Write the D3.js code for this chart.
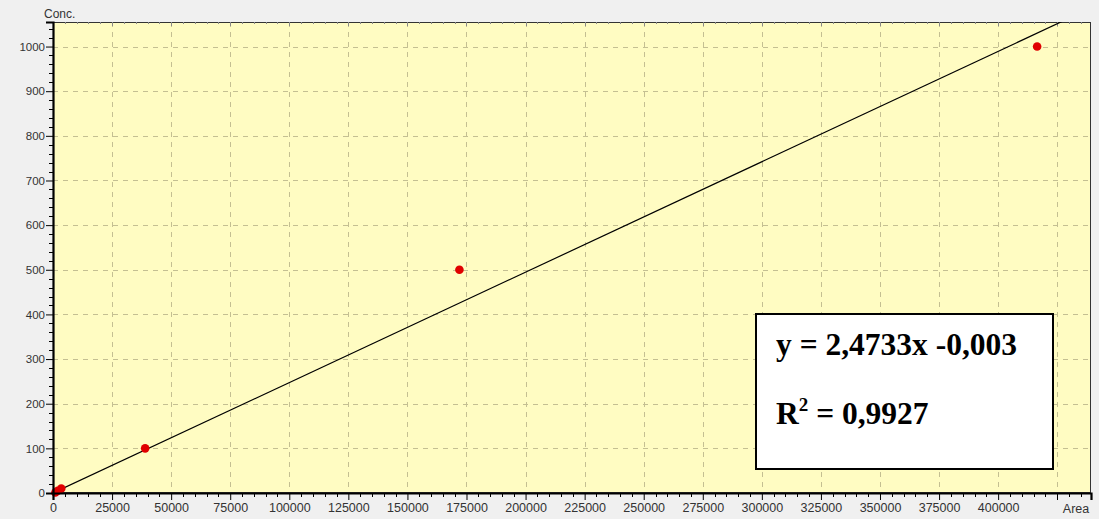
<!DOCTYPE html>
<html><head><meta charset="utf-8">
<script src="https://cdn.jsdelivr.net/npm/d3@7"></script>
<style>
html,body{margin:0;padding:0;background:#f0f0f0;}
svg{display:block;}
</style></head>
<body>
<svg id="c" width="1099" height="519"></svg>
<script>
// Data
const areaValues = [1000, 2000, 3500, 39000, 172000, 416500];
const concValues = [1, 5, 10, 100, 500, 1000];
const xTickValues = [0,25000,50000,75000,100000,125000,150000,175000,200000,225000,250000,275000,300000,325000,350000,375000,400000];
const yTickValues = [0,100,200,300,400,500,600,700,800,900,1000];
const fitSlope = 0.0024733;
const fitIntercept = -0.003;
const equationText = "y = 2,4733x -0,003";
const r2Value = "0,9927";
const xLabel = "Area", yLabel = "Conc.";

const svg = d3.select("#c");
const L = 53, R = 1091, T = 22, B = 493;
const x = d3.scaleLinear().domain([0, 439300]).range([L, R]);
const y = d3.scaleLinear().domain([0, 1055]).range([B, T]);
const sans = "Liberation Sans, Arial, sans-serif";

// plot background
svg.append("rect").attr("x", L).attr("y", T).attr("width", R-L).attr("height", B-T)
  .attr("fill", "#fffcc2");

// grid
const gridColor = "#c4bf92";
svg.append("g").selectAll("line").data(xTickValues.concat([425000]).filter(d=>d>0)).join("line")
  .attr("x1", d=>Math.round(x(d))+0.5).attr("x2", d=>Math.round(x(d))+0.5)
  .attr("y1", T).attr("y2", B)
  .attr("stroke", gridColor).attr("stroke-dasharray", "5,5");
svg.append("g").selectAll("line").data(yTickValues.filter(d=>d>0)).join("line")
  .attr("y1", d=>Math.round(y(d))+0.5).attr("y2", d=>Math.round(y(d))+0.5)
  .attr("x1", L).attr("x2", R)
  .attr("stroke", gridColor).attr("stroke-dasharray", "5,5");

// frame top/right
svg.append("rect").attr("x", L+0.5).attr("y", T+0.5).attr("width", R-L-1).attr("height", B-T-1)
  .attr("fill", "none").attr("stroke", "#333").attr("stroke-width", 1);

// top minor ticks
const xMinor = d3.range(0, 440000, 5000);
svg.append("g").selectAll("line").data(xMinor).join("line")
  .attr("x1", d=>Math.round(x(d))+0.5).attr("x2", d=>Math.round(x(d))+0.5)
  .attr("y1", T).attr("y2", d=> d%25000===0 ? T+4 : T+2)
  .attr("stroke", "#888");

// fit line (clipped)
svg.append("clipPath").attr("id","clip").append("rect")
  .attr("x", L).attr("y", T).attr("width", R-L).attr("height", B-T);
const lineX = [0, 440000];
svg.append("line").attr("clip-path","url(#clip)")
  .attr("x1", x(lineX[0])).attr("y1", y(fitSlope*lineX[0]+fitIntercept))
  .attr("x2", x(lineX[1])).attr("y2", y(fitSlope*lineX[1]+fitIntercept))
  .attr("stroke", "#000").attr("stroke-width", 1.2);

// points
svg.append("g").selectAll("circle").data(areaValues.map((a,i)=>[a, concValues[i]])).join("circle")
  .attr("cx", d=>x(d[0])).attr("cy", d=>y(d[1])).attr("r", 4.3)
  .attr("fill", "#e00000");

// axes
const xAxis = d3.axisBottom(x).tickValues(xTickValues).tickSize(7).tickFormat(d=>String(d));
const gx = svg.append("g").attr("transform", `translate(0,${B})`).call(xAxis);
const yAxis = d3.axisLeft(y).tickValues(yTickValues).tickSize(7).tickFormat(d=>String(d));
const gy = svg.append("g").attr("transform", `translate(${L},0)`).call(yAxis);
[gx, gy].forEach(g=>{
  g.select(".domain").attr("stroke", "#000").attr("stroke-width", 2.2);
  g.selectAll(".tick line").attr("stroke", "#000");
  g.selectAll(".tick text").attr("fill", "#333").attr("font-family", sans);
});
gx.selectAll(".tick text").attr("font-size", 12.5).attr("y", 10).attr("dy", "0.71em");
gy.selectAll(".tick text").attr("font-size", 11.5).attr("x", -8);

// minor ticks bottom
svg.append("g").selectAll("line").data(xMinor.filter(d=>d%25000!==0 || d===425000)).join("line")
  .attr("x1", d=>Math.round(x(d))+0.5).attr("x2", d=>Math.round(x(d))+0.5)
  .attr("y1", B).attr("y2", d=> d===425000 ? B+7 : B+4).attr("stroke", "#000");
// minor ticks left
const yMinor = d3.range(0, 1060, 20).filter(d=>d%100!==0);
svg.append("g").selectAll("line").data(yMinor).join("line")
  .attr("y1", d=>Math.round(y(d))+0.5).attr("y2", d=>Math.round(y(d))+0.5)
  .attr("x1", L-4).attr("x2", L).attr("stroke", "#000");

// axis labels
svg.append("text").attr("x", 1076).attr("y", 513).attr("text-anchor", "middle")
  .attr("font-family", sans).attr("font-size", 12.5).attr("fill", "#333").text(xLabel);
svg.append("text").attr("x", 44).attr("y", 18)
  .attr("font-family", sans).attr("font-size", 12).attr("fill", "#333").text(yLabel);

// equation box
const bx = 756, by = 314, bw = 297, bh = 155;
svg.append("rect").attr("x", bx).attr("y", by).attr("width", bw).attr("height", bh)
  .attr("fill", "#fff").attr("stroke", "#000").attr("stroke-width", 2);
const eqFont = "Liberation Serif, Times New Roman, serif";
svg.append("text").attr("x", 776).attr("y", 355)
  .attr("font-family", eqFont).attr("font-weight", "bold").attr("font-size", 31.5).attr("fill", "#000")
  .text(equationText);
const r2 = svg.append("text").attr("x", 776).attr("y", 424)
  .attr("font-family", eqFont).attr("font-weight", "bold").attr("font-size", 31.5).attr("fill", "#000");
r2.append("tspan").text("R");
r2.append("tspan").attr("font-size", 19).attr("dy", -13).text("2");
r2.append("tspan").attr("dy", 13).text(" = " + r2Value);
</script>
</body></html>
